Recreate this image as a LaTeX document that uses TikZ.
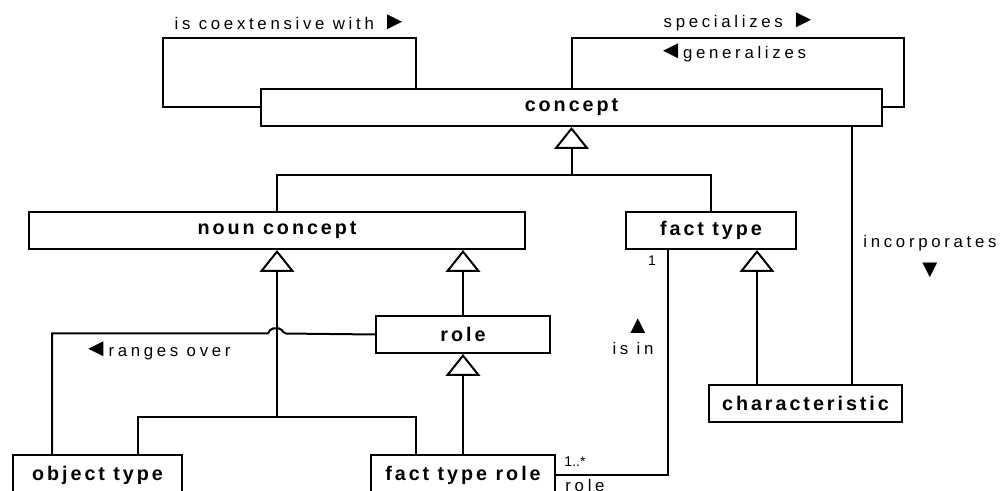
\documentclass[tikz,border=0pt]{standalone}
\usepackage{fontspec}
\setmainfont{Liberation Sans}
\newfontfamily\boxfont[LetterSpace=15]{Liberation Sans}
\newfontfamily\linkfont[LetterSpace=22]{Liberation Sans}
\newcommand\tri[1]{{\fontsize{19}{19}\selectfont #1}}
\usetikzlibrary{arrows.meta}
\tikzset{
  umlbox/.style 2 args={draw, line width=1.5pt, inner sep=0pt, anchor=north west,
    minimum width=#1*0.75pt, minimum height=#2*0.75pt,
    font=\fontsize{14.8}{17}\selectfont\boxfont\bfseries},
  conn/.style={line width=1.5pt},
  gen/.style={conn, -{Triangle[open, length=16.5pt, width=26pt]}},
  linklbl/.style={inner sep=0pt, font=\fontsize{12.6}{14}\selectfont\linkfont},
  multlbl/.style={inner sep=0pt, font=\fontsize{10.5}{11}\selectfont},
}
\begin{document}
\begin{tikzpicture}[x=0.75pt,y=0.75pt,yscale=-1,xscale=1]
    \fill[white] (0,0) rectangle (1000,491);
    \useasboundingbox (0,0) rectangle (1000,491);
    \clip (0,0) rectangle (1000,491);
    % Boxes
    \node[umlbox={621}{37}] (concept) at (260,88) {concept};
    \node[umlbox={496}{37}] (nouncon) at (28,211) {noun concept};
    \node[umlbox={170}{37}] (facttype) at (625,211) {fact type};
    \node[umlbox={174}{37}] (role) at (375,315) {role};
    \node[umlbox={169}{40}] (objtype) at (12,454) {object type};
    \node[umlbox={184}{40}] (ftrole) at (370,454) {fact type role};
    \node[umlbox={193}{37}] (charac) at (708,384) {characteristic};
    % Loops on concept
    \draw[conn] ([xshift=117pt]concept.north west) |- (163,38) |- (concept.west);
    \draw[conn] (concept.north) |- (904,38) |- (concept.east);
    % Generalization into concept
    \coordinate (cjoin) at (concept.south |- 0,175);
    \draw[gen] (cjoin) -- (concept.south);
    \draw[conn] (nouncon.north) |- (cjoin) -| (facttype.north);
    % Generalization into noun concept
    \coordinate (njoin) at (nouncon.south |- 0,417);
    \draw[gen] (njoin) -- (nouncon.south);
    \draw[conn] ([xshift=94.5pt]objtype.north west) |- (njoin) -| ([xshift=34.5pt]ftrole.north west);
    \draw[gen] (role.north) -- (role.north |- nouncon.south);
    \draw[gen] (ftrole.north -| role.south) -- (role.south);
    % Generalization into fact type
    \coordinate (chup) at ([xshift=36.75pt]charac.north west);
    \draw[gen] (chup) -- (chup |- facttype.south);
    % Associations
    \draw[conn] ([xshift=108pt]charac.north west) -- ([xshift=108pt]charac.north west |- concept.south);
    \draw[conn] ([xshift=32.25pt]facttype.south west) |- (ftrole.east);
    \draw[conn] ([xshift=30pt]objtype.north west) |- (268,333.5)
      [rounded corners=1.5pt] -- ++(3,-5) -- ++(10,0) -- ++(3,5) [sharp corners] -- (role.west);
    % Text Node
    \node[linklbl] (coexlbl) at (291,22) {is coextensive with \tri{►}};
    \node[linklbl] (speclbl) at (740,22) {specializes \tri{►}};
    \node[linklbl] (genlbl) at (732,53) {\tri{◄}generalizes};
    \node[linklbl] (inclbl) at (930,243) {incorporates};
    \node[linklbl] (incarrow) at (930,270) {\tri{▼}};
    \node[linklbl] (rangelbl) at (157,351) {\tri{◄}ranges over};
    \node[linklbl] (isinarrow) at (638,326) {\tri{▲}};
    \node[linklbl] (isinlbl) at (633,348) {is in};
    \node[multlbl] (onelbl) at (652,261) {1};
    \node[multlbl] (manylbl) at (575,462) {1..*};
    \node[linklbl] (rolelbl) at (585,485) {role};
\end{tikzpicture}
\end{document}
